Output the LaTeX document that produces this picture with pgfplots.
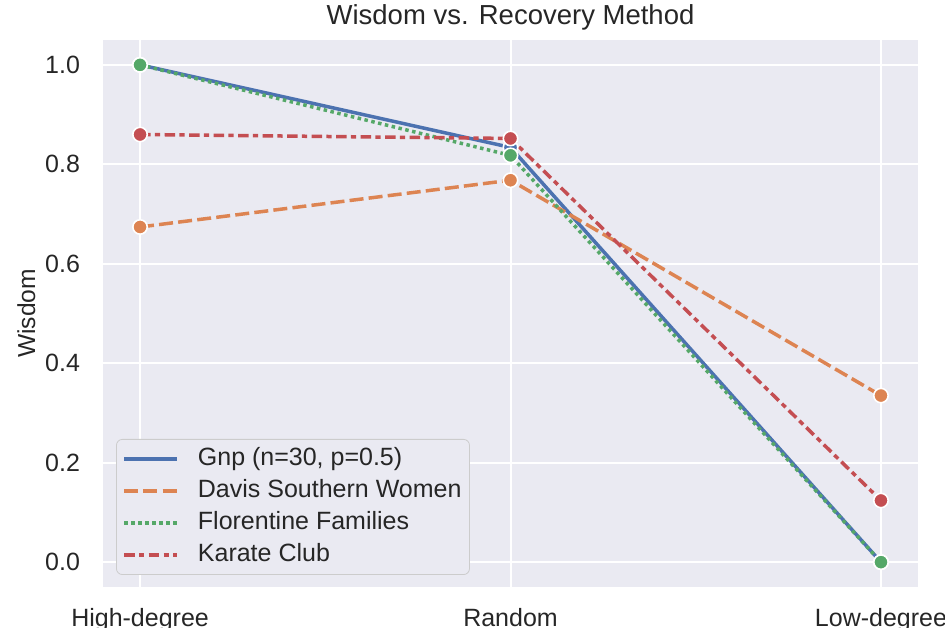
\documentclass[border=0pt]{standalone}
\usepackage{fontspec}
\setmainfont{Liberation Sans}
\usepackage{pgfplots}
\pgfplotsset{compat=1.18}
\definecolor{bg}{HTML}{EAEAF2}
\definecolor{txt}{HTML}{262626}
\definecolor{cb}{HTML}{4C72B0}
\definecolor{co}{HTML}{DD8452}
\definecolor{cg}{HTML}{55A868}
\definecolor{cr}{HTML}{C44E52}
\begin{document}
\begin{tikzpicture}
\begin{axis}[
  at={(0,0)}, anchor=south west,
  scale only axis, width=407.5pt, height=273.5pt,
  xmin=-0.1, xmax=2.1, ymin=-0.05, ymax=1.05,
  xtick={0,1,2}, xticklabels={High-degree,Random,Low-degree},
  ytick={0,0.2,0.4,0.6,0.8,1.0},
  /pgf/number format/assume math mode=true,
  axis background/.style={fill=bg},
  axis line style={draw=none},
  major tick length=0pt,
  grid=major, major grid style={white, line width=1pt},
  tick label style={font=\fontsize{12.5}{15}\selectfont, text=txt},
  yticklabel style={anchor=east, xshift=-8pt, /pgf/number format/fixed, /pgf/number format/fixed zerofill, /pgf/number format/precision=1},
  xticklabel style={anchor=base, yshift=-19.5pt},
  ylabel={Wisdom},
  ylabel style={at={(axis description cs:0,0.5)}, anchor=south, yshift=30.3pt, font=\fontsize{12.3}{15}\selectfont, text=txt},
  title={Wisdom vs. Recovery Method},
  title style={at={(axis description cs:0.5,1)}, anchor=base, yshift=1.5pt, font=\fontsize{13.75}{16}\selectfont, text=txt},
  legend cell align=left,
  legend style={at={(0.016,0.022)}, anchor=south west, fill=bg, draw=black!20, rounded corners=3pt,
    font=\fontsize{12.5}{15}\selectfont, text=txt, inner sep=3pt, row sep=2.4pt, column sep=8.5pt,
    nodes={inner sep=1pt, text height=9pt, text depth=2.6pt}},
  legend image code/.code={\draw[#1, mark=none] (0pt,0pt) -- (26.5pt,0pt);},
  every axis plot/.append style={line width=1.75pt},
]
\addplot[cb, solid, mark=*, mark size=3.6pt, mark options={solid, fill=cb, draw=white, line width=0.8pt}]
  coordinates {(0,1.0) (1,0.834) (2,0.0)};
\addlegendentry{Gnp (n=30, p=0.5)}
\addplot[co, dash pattern=on 7pt off 2.6pt, mark=*, mark size=3.6pt, mark options={solid, fill=co, draw=white, line width=0.8pt}]
  coordinates {(0,0.674) (1,0.768) (2,0.335)};
\addlegendentry{Davis Southern Women}
\addplot[cg, dash pattern=on 1.75pt off 1.75pt, mark=*, mark size=3.6pt, mark options={solid, fill=cg, draw=white, line width=0.8pt}]
  coordinates {(0,1.0) (1,0.818) (2,0.0)};
\addlegendentry{Florentine Families}
\addplot[cr, dash pattern=on 5.25pt off 2.2pt on 2.6pt off 2.2pt, mark=*, mark size=3.6pt, mark options={solid, fill=cr, draw=white, line width=0.8pt}]
  coordinates {(0,0.860) (1,0.852) (2,0.124)};
\addlegendentry{Karate Club}
\end{axis}
\pgfresetboundingbox
\path[use as bounding box] (-51.5pt,-20pt) rectangle (421pt,293.5pt);
\end{tikzpicture}
\end{document}
